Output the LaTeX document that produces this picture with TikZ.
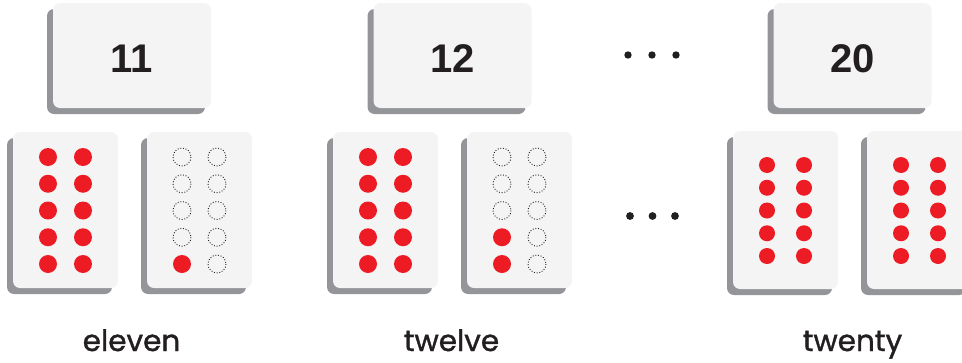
\documentclass[tikz,border=0pt]{standalone}
\usepackage{fontspec}
\setmainfont{Liberation Sans}
\newfontfamily\labelfont[FakeBold=1.2]{Poppins}
\usetikzlibrary{shadows}
\definecolor{facegray}{HTML}{F4F4F4}
\definecolor{shadegray}{HTML}{939598}
\definecolor{dotred}{HTML}{ED1C24}
\definecolor{inkblack}{HTML}{231F20}
\tikzset{
  tile/.style={fill=facegray, draw=none, rounded corners=7pt, inner sep=0pt,
    drop shadow={shadow xshift=-6pt, shadow yshift=-6pt, fill=shadegray, opacity=1}},
  numbox/.style={tile, minimum width=158pt, minimum height=105pt},
  cardbox/.style={tile, minimum width=105pt, minimum height=156pt},
  bigcard/.style={tile, minimum width=105pt, minimum height=158pt},
  numtext/.style={font=\fontsize{40}{40}\selectfont\bfseries, text=inkblack, anchor=base, inner sep=0pt},
  wordtext/.style={font=\labelfont\fontsize{29.5}{30}\selectfont, text=inkblack, anchor=base, inner sep=0pt},
  reddot/.style={fill=dotred},
  emptydot/.style={draw=inkblack, line width=0.9pt, dash pattern=on 0.9pt off 1.8pt},
  ellip/.style={fill=inkblack}
}
\newcommand{\bigdot}[4]{% #1 card, #2 col (-1/1), #3 row (-2..2), #4 style
  \path[#4] ([shift={(17.5*#2,26.75*#3+0.5)}]#1.center) circle (9);}
\newcommand{\smalldot}[3]{%
  \path[reddot] ([shift={(18.5*#2,22.75*#3+0.5)}]#1.center) circle (8);}
\begin{document}
\begin{tikzpicture}[x=1pt,y=-1pt]
\useasboundingbox (0,0) rectangle (962,362);
% number boxes
\node[numbox] (b11) at (132,55.5) {};
\node[numbox] (b12) at (452.5,55.5) {};
\node[numbox] (b20) at (852.5,55.5) {};
\node[numtext] (n11) at (132,72) {11};
\node[numtext] (n12) at (452.5,72) {12};
\node[numtext] (n20) at (852.5,72) {20};
% ellipses
\foreach \xx in {628,652,676} \fill[ellip] (\xx,55) circle (3.7);
\foreach \xx in {630,652.5,675} \fill[ellip] (\xx,216) circle (3.9);
% cards
\node[cardbox] (c1) at (65.5,210) {};
\node[cardbox] (c2) at (199.5,210) {};
\node[cardbox] (c3) at (385.5,210) {};
\node[cardbox] (c4) at (519.5,210) {};
\node[bigcard] (c5) at (785.5,210) {};
\node[bigcard] (c6) at (919.5,210) {};
% full cards of ten
\foreach \c in {c1,c3}
  \foreach \r in {-2,...,2}
    \foreach \s in {-1,1}
      {\bigdot{\c}{\s}{\r}{reddot}}
% card with one
\foreach \r in {-2,...,1} \foreach \s in {-1,1} {\bigdot{c2}{\s}{\r}{emptydot}}
\bigdot{c2}{1}{2}{emptydot}
\bigdot{c2}{-1}{2}{reddot}
% card with two
\foreach \r in {-2,...,0} \foreach \s in {-1,1} {\bigdot{c4}{\s}{\r}{emptydot}}
\bigdot{c4}{1}{1}{emptydot}
\bigdot{c4}{1}{2}{emptydot}
\bigdot{c4}{-1}{1}{reddot}
\bigdot{c4}{-1}{2}{reddot}
% twenty cards
\foreach \c in {c5,c6}
  \foreach \r in {-2,...,2}
    \foreach \s in {-1,1}
      {\smalldot{\c}{\s}{\r}}
% words
\node[wordtext] (w11) at (131.5,351) {eleven};
\node[wordtext] (w12) at (451.5,351) {twelve};
\node[wordtext] (w20) at (852.5,351) {twenty};
\end{tikzpicture}
\end{document}
